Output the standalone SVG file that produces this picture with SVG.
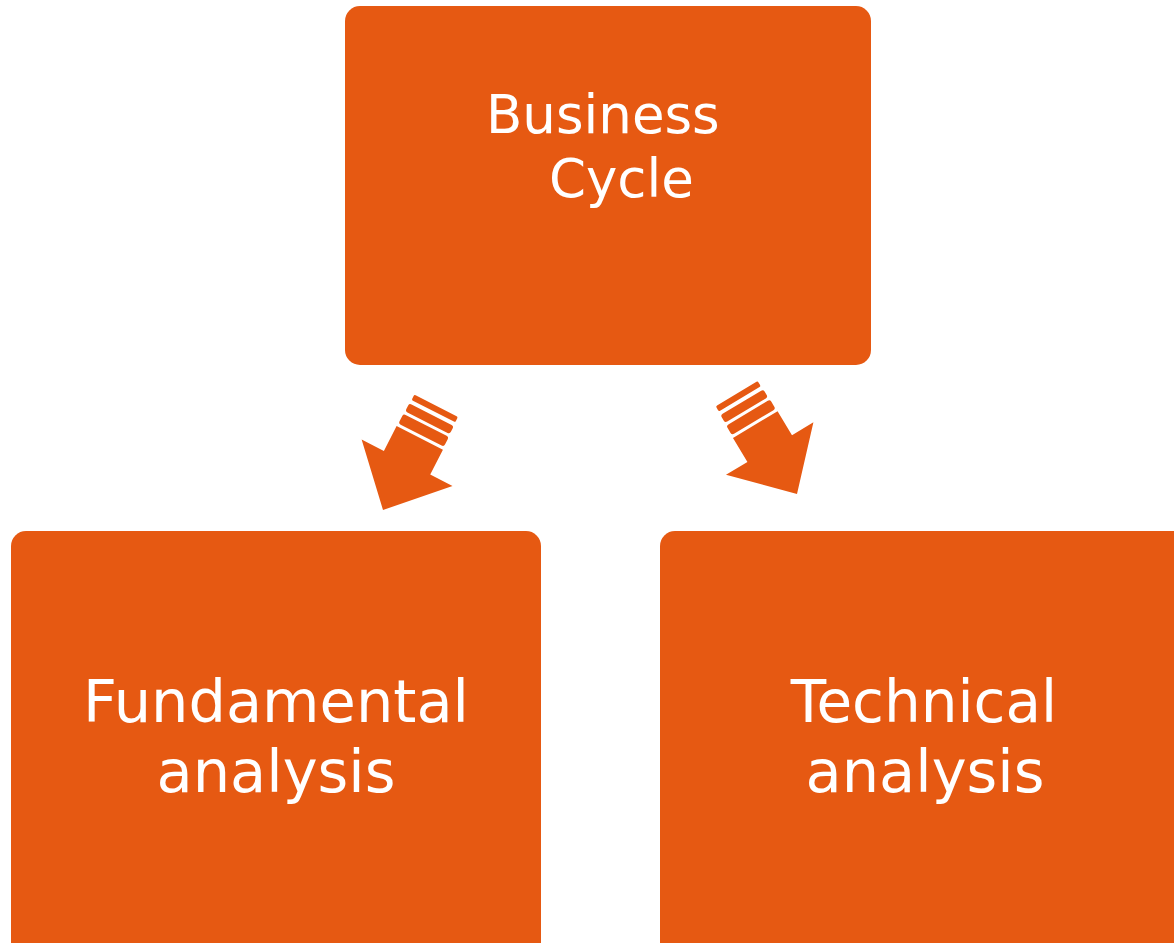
<svg xmlns="http://www.w3.org/2000/svg" width="1174" height="943" viewBox="0 0 1174 943">
<style>
.box{fill:#E65912}
.lbl{font-family:"DejaVu Sans",Verdana,sans-serif;fill:#FFFFFF}
.arr{fill:#E65912}
</style>
<defs>
<g id="arrowShape">
<polygon points="0,0 -51,-53 -26,-53 -26,-81 26,-81 26,-53 51,-53"/>
<rect x="-25.5" y="-95" width="51" height="11" rx="2.5"/>
<rect x="-25" y="-107" width="50" height="9" rx="2.5"/>
<rect x="-24.5" y="-117" width="49" height="6" rx="1.5"/>
</g>
</defs>
<rect width="1174" height="943" fill="#FFFFFF"/>
<g id="connectors">
<use href="#arrowShape" class="arr" transform="translate(383,510) rotate(27)"/>
<use href="#arrowShape" class="arr" transform="translate(797,494) rotate(-31)"/>
</g>
<g id="node-business-cycle">
<rect class="box" x="345" y="6" width="526" height="359" rx="15"/>
<text class="lbl" font-size="53" x="486" y="133">Business</text>
<text class="lbl" font-size="53" x="549" y="197">Cycle</text>
</g>
<g id="node-fundamental">
<rect class="box" x="11" y="531" width="530" height="430" rx="15"/>
<text class="lbl" font-size="59" x="276" y="722" text-anchor="middle">Fundamental</text>
<text class="lbl" font-size="59" x="276" y="792" text-anchor="middle">analysis</text>
</g>
<g id="node-technical">
<rect class="box" x="660" y="531" width="540" height="430" rx="15"/>
<text class="lbl" font-size="58" x="924" y="722" text-anchor="middle">Technical</text>
<text class="lbl" font-size="59" x="925" y="792" text-anchor="middle">analysis</text>
</g>
</svg>
